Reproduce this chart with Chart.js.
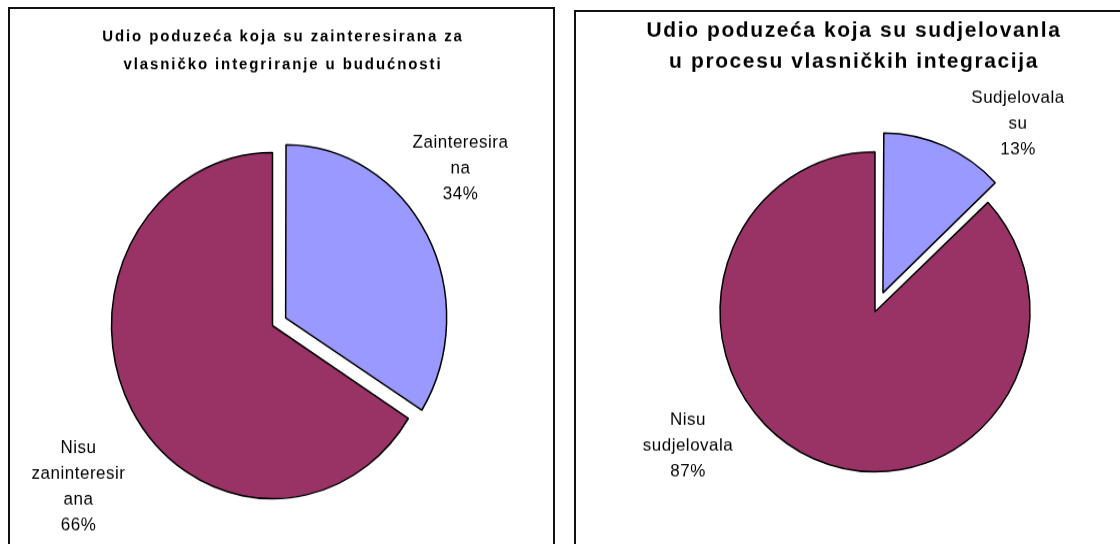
<!DOCTYPE html>
<html>
<head>
<meta charset="utf-8">
<script src="https://cdn.jsdelivr.net/npm/chart.js@4.4.1/dist/chart.umd.min.js"></script>
<style>
  body { margin: 0; background: #fff; width: 1120px; height: 544px; overflow: hidden; position: relative; }
  .box { position: absolute; border: 2px solid #111; overflow: hidden; background: #fff; }
  #box1 { left: 8px; top: 7px; width: 543px; height: 560px; }
  #box2 { left: 574px; top: 10px; width: 560px; height: 560px; }
  canvas { position: absolute; left: 0; top: 0; transform-origin: 0 0; }
</style>
</head>
<body>
<div class="box" id="box1"><canvas id="chart1" width="543" height="520"></canvas></div>
<div class="box" id="box2"><canvas id="chart2" width="560" height="540"></canvas></div>
<script>
// left chart
const title1 = ['Udio poduzeća koja su zainteresirana za', 'vlasničko integriranje u budućnosti'];
const labels1 = [['Zainteresira', 'na'], ['Nisu', 'zaninteresir', 'ana']];
const values1 = [34, 66];

// right chart
const title2 = ['Udio poduzeća koja su sudjelovanla', 'u procesu vlasničkih integracija'];
const labels2 = [['Sudjelovala', 'su'], ['Nisu', 'sudjelovala']];
const values2 = [13, 87];

const sliceColors = ['#9999FF', '#993366'];

// chart.js grows an exploded slice's radius a bit, keep it the same as the others
const offsetFix = {
    id: 'offsetFix',
    afterDatasetsUpdate(chart) {
        chart.getDatasetMeta(0).data.forEach(arc => {
            const off = (arc.options.offset || 0) / 4;
            const fix = 1 - Math.sin(Math.min(Math.PI, arc.circumference));
            arc.outerRadius -= off * fix;
        });
    }
};

// title and outside slice labels; the canvas is stretched vertically by css,
// so text is drawn with the inverse scale to keep its shape
const pieText = {
    id: 'pieText',
    afterDraw(chart, args, opts) {
        const ctx = chart.ctx;
        const k = opts.stretch;
        const arc = chart.getDatasetMeta(0).data[0];
        const cx = arc.x, cy = arc.y * k;
        const data = chart.data.datasets[0].data;
        const total = data.reduce((a, b) => a + b, 0);

        ctx.save();
        ctx.scale(1, 1 / k);
        ctx.fillStyle = '#000';
        ctx.textAlign = 'center';
        ctx.textBaseline = 'middle';

        ctx.font = opts.titleFont;
        ctx.letterSpacing = opts.titleSpacing;
        opts.title.forEach((line, i) => {
            ctx.fillText(line, opts.titleX, opts.titleY + i * opts.titleLine);
        });

        ctx.font = '17px "Liberation Sans", Arial, sans-serif';
        ctx.letterSpacing = '0.5px';
        chart.data.labels.forEach((lab, i) => {
            const lines = lab.concat([Math.round(data[i] / total * 100) + '%']);
            const [dx, dy] = opts.labelPos[i];
            const top = cy + dy - (lines.length - 1) * 26 / 2;
            lines.forEach((line, j) => {
                ctx.fillText(line, cx + dx, top + j * 26);
            });
        });
        ctx.restore();
    }
};

function makePie(id, labels, values, offsets, radius, padding, text) {
    const canvas = document.getElementById(id);
    canvas.style.transform = 'scaleY(' + text.stretch + ')';
    return new Chart(canvas, {
        type: 'pie',
        data: {
            labels: labels,
            datasets: [{
                data: values,
                backgroundColor: sliceColors,
                borderColor: '#000',
                borderWidth: 1.5,
                offset: offsets,
                radius: radius
            }]
        },
        options: {
            responsive: false,
            animation: false,
            events: [],
            layout: { padding: padding },
            plugins: {
                legend: { display: false },
                tooltip: { enabled: false },
                title: { display: false },
                pieText: text
            }
        },
        plugins: [offsetFix, pieText]
    });
}

makePie('chart1', labels1, values1, [60, 0], 161,
    { left: 0, right: 18, top: 69, bottom: 0 },
    {
        stretch: 1.075,
        title: title1, titleFont: 'bold 15px "Liberation Sans", Arial, sans-serif',
        titleSpacing: '1.9px', titleX: 273, titleY: 28.5, titleLine: 28,
        labelPos: [[188, -157], [-194, 161.5]]
    });

makePie('chart2', labels2, values2, [80, 0], 155,
    { left: 38, right: 0, top: 41, bottom: 0 },
    {
        stretch: 1.032,
        title: title2, titleFont: 'bold 21px "Liberation Sans", Arial, sans-serif',
        titleSpacing: '1.6px', titleX: 278, titleY: 19, titleLine: 31,
        labelPos: [[143, -188], [-187, 134]]
    });
</script>
</body>
</html>
